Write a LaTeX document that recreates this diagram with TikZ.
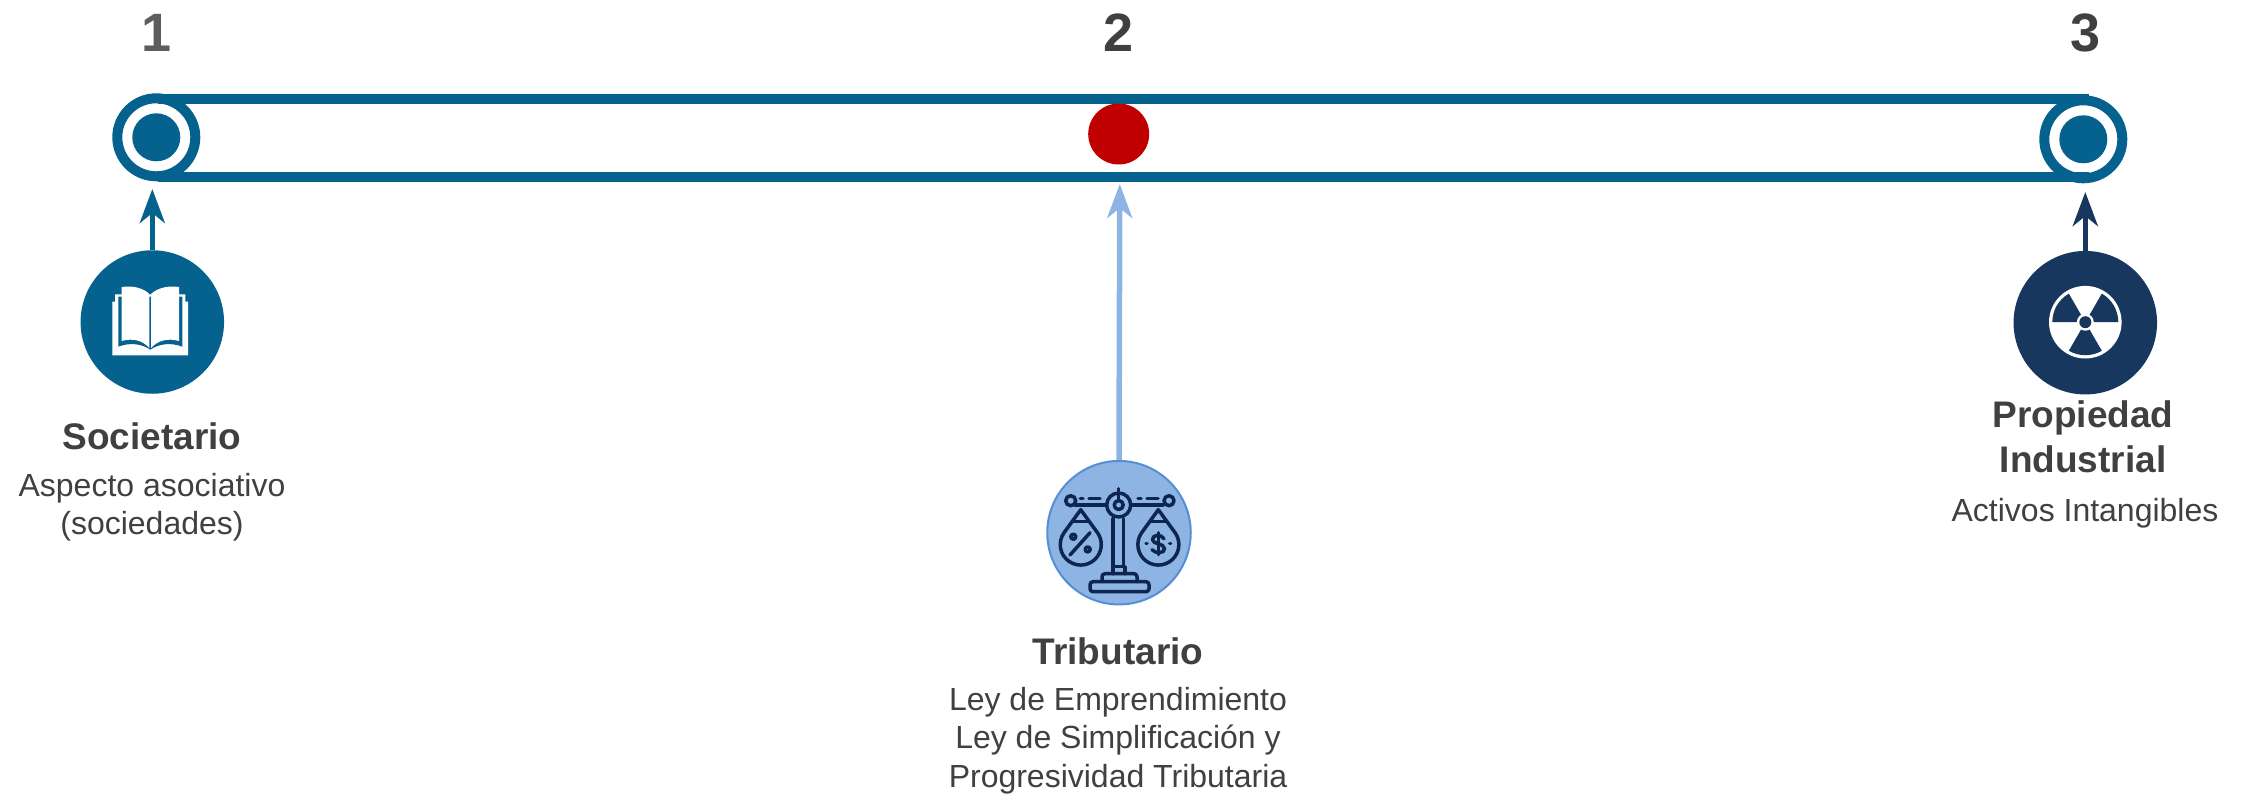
\documentclass[tikz,border=0pt]{standalone}
\usepackage{fontspec}
\setmainfont{Liberation Sans}
\usetikzlibrary{arrows.meta}
\definecolor{beltblue}{HTML}{05628F}
\definecolor{navy}{HTML}{17375E}
\definecolor{inkblue}{HTML}{0C2650}
\definecolor{skyfill}{HTML}{8EB4E3}
\definecolor{skyline}{HTML}{558ED5}
\definecolor{redhub}{HTML}{C00000}
\definecolor{txt}{HTML}{404040}
\begin{document}
\begin{tikzpicture}
      [x=1pt,y=-1pt
      ,pulley/.style={circle,draw=beltblue,line width=10pt,minimum size=78pt,inner sep=0pt,fill=white}
      ,hub/.style={circle,fill=beltblue,minimum size=48pt,inner sep=0pt}
      ,belt/.style={color=beltblue,line width=10pt}
      ,disc/.style={circle,minimum size=143.5pt,inner sep=0pt}
      ,lift/.style={line width=5.5pt,-{Stealth[length=34pt,width=25pt,inset=10pt]}}
      ,num/.style={text=txt,font=\fontsize{54}{54}\selectfont\bfseries}
      ,title/.style={text=txt,font=\fontsize{37}{45}\selectfont\bfseries,align=center}
      ,body/.style={text=txt,font=\fontsize{32}{38.5}\selectfont,align=center}
      ,ink/.style={draw=inkblue,line width=3.5pt,line cap=round,line join=round}
      ]
        \useasboundingbox (0,0) rectangle (2247,795);
        \node[pulley] (pulleyA) at (156.3,137.3) {};
        \node[pulley] (pulleyC) at (2083.3,139.3) {};
        \node[hub] (hubA) at (pulleyA) {};
        \node[hub] (hubC) at (pulleyC) {};
        \draw[belt] (158,99) -- (2089,99);
        \draw[belt] (158,177) -- (2089,177);
        \node[circle,fill=redhub,minimum size=61pt,inner sep=0pt] (hubB) at (1118.7,134) {};
        \node[num,text=txt!85] (numA) at (156.5,32.5) {1};
        \node[num] (numB) at (1118.5,32.5) {2};
        \node[num] (numC) at (2085,32.5) {3};
        \node[disc,fill=beltblue] (discA) at (152.3,322) {};
        \node[disc,fill=skyfill,draw=skyline,line width=2pt] (discB) at (1119,532.7) {};
        \node[disc,fill=navy] (discC) at (2085.3,322.7) {};
        \coordinate (tipA) at (152.3,189);
        \coordinate (tipB) at (1119.8,184);
        \coordinate (tipC) at (2085.3,192);
        \draw[lift,color=beltblue] (discA.north) -- (tipA);
        \draw[lift,color=skyfill] (discB.north) -- (tipB);
        \draw[lift,color=navy] (discC.north) -- (tipC);
        \begin{scope}[shift={(discA.center)}]
          \fill[white] (-40,33.3) -- (-40,-20.3) -- (-37.3,-20.3) -- (-37.3,-27.7) -- (33,-27.7) -- (33,-20.3) -- (35.7,-20.3) -- (35.7,33.3) -- cycle;
          \fill[beltblue] (-34,-25.3) -- (30,-25.3) -- (30,24.7) .. controls (18,20) and (6,22) .. (-2,27.7) .. controls (-10,22) and (-22,20) .. (-34,24.7) -- cycle;
          \fill[white] (-30.7,-35) .. controls (-18,-37) and (-8,-33) .. (-3,-28) -- (-3,26) .. controls (-10,18) and (-20,16) .. (-30.7,19) -- cycle;
          \fill[white] (26.7,-35) .. controls (14,-37) and (4,-33) .. (-1.3,-28) -- (-1.3,26) .. controls (6,18) and (16,16) .. (26.7,19) -- cycle;
        \end{scope}
        \begin{scope}[shift={(discB.center)}]
          \draw[ink] (-44,-27.7) -- (-13,-27.7);
          \draw[ink] (12.7,-27.7) -- (44,-27.7);
          \draw[ink] (-0.3,-27.7) circle[radius=12];
          \draw[ink] (-0.3,-27.7) circle[radius=4.5];
          \draw[ink] (-0.3,-44) -- (-0.3,-32);
          \foreach \x in {-48.3,50}{
            \draw[ink] (\x,-32) circle[radius=5];
          }
          \draw[ink] (-38.7,-34.3) -- (-36,-34.3);
          \draw[ink] (-30,-34.3) -- (-19,-34.3);
          \draw[ink] (19,-34.3) -- (22,-34.3);
          \draw[ink] (28,-34.3) -- (39,-34.3);
          \draw[ink] (-6,-14) -- (-6,34);
          \draw[ink] (4.3,-14) -- (4.3,34);
          \draw[ink] (-6,41) -- (-6,34) -- (6,34) -- (6,41);
          \draw[ink,rounded corners=3pt] (-17,49) -- (-17,41) -- (18,41) -- (18,49);
          \draw[ink,rounded corners=3pt] (-29,49) rectangle (30,59);
          \foreach \x in {-38.3,39.3}{
            \draw[ink] (\x,-23) -- ++(-16.8,23.2) arc[start angle=-145.3,end angle=-394.7,radius=20.5] -- cycle;
            \draw[ink] ([xshift=-8pt]\x,-11) -- ([xshift=8pt]\x,-11);
          }
          \draw[ink] (-29,0) -- (-49,22.3);
          \draw[ink] (-45.7,4) circle[radius=2.5];
          \draw[ink] (-31.3,16.7) circle[radius=2.5];
          \draw[ink] (45,6) .. controls (42,1) and (33,2) .. (33.5,7) .. controls (34,12) and (45,10) .. (45.5,16) .. controls (46,21) and (36,21) .. (33,17);
          \draw[ink] (39.3,0) -- (39.3,22);
          \draw[ink] (27,10.7) -- (28,10.7);
          \draw[ink] (50.7,10.7) -- (51.7,10.7);
        \end{scope}
        \begin{scope}[shift={(discC.center)}]
          \fill[white] (0,-0.5) circle[radius=36.3];
          \foreach \a in {60,180,300}{
            \fill[navy] (0,-0.5) -- +(\a:33) arc[start angle=\a,delta angle=60,radius=33] -- cycle;
          }
          \fill[white] (0,-0.5) circle[radius=8.5];
          \fill[navy] (0,-0.5) circle[radius=6];
        \end{scope}
        \node[title] (titleA) at (152,436) {Societario};
        \node[body] (bodyA) at (152,507) {Aspecto asociativo\\(sociedades)};
        \node[title] (titleB) at (1118,651) {Tributario};
        \node[body] (bodyB) at (1118,740.5) {Ley de Emprendimiento\\Ley de Simplificación y\\Progresividad Tributaria};
        \node[title] (titleC) at (2083,437) {Propiedad\\Industrial};
        \node[body] (bodyC) at (2085,513) {Activos Intangibles};
      \end{tikzpicture}
\end{document}
